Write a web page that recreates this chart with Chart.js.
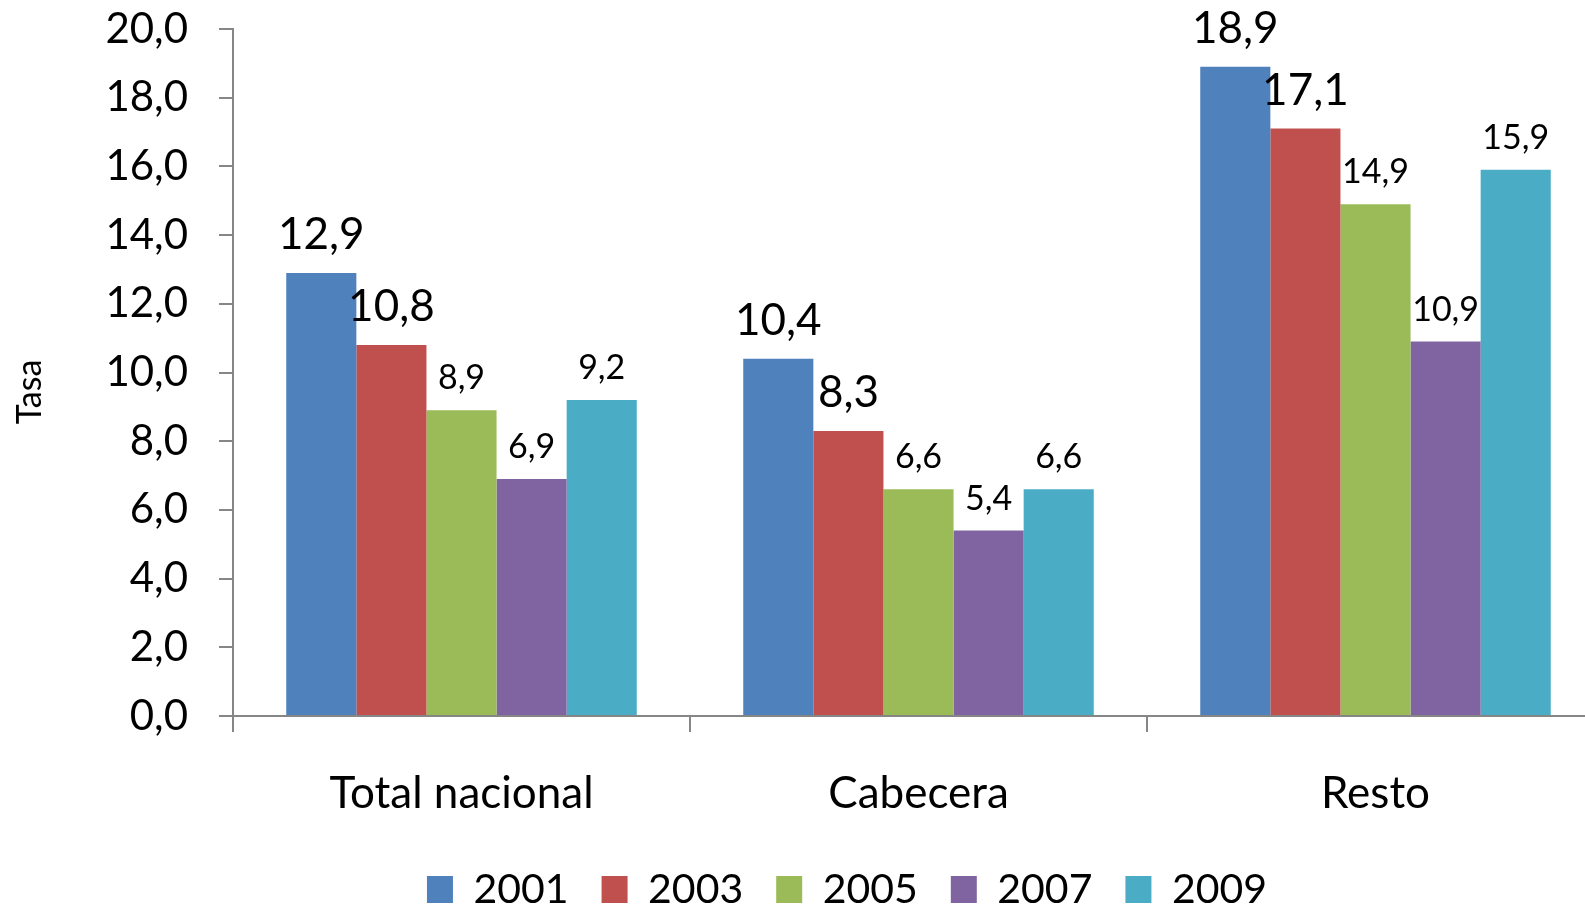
<!DOCTYPE html>
<html>
<head>
<meta charset="utf-8">
<script src="https://cdn.jsdelivr.net/npm/chart.js@4"></script>
<style>
  html, body { margin: 0; padding: 0; background: #fff; overflow: hidden; }
  #wrap { width: 1694px; height: 909px; }
</style>
</head>
<body>
<div id="wrap"><canvas id="tasaChart" width="1694" height="909"></canvas></div>
<script>
// data
const categories = ["Total nacional", "Cabecera", "Resto"];
const years = ["2001", "2003", "2005", "2007", "2009"];
const v2001 = [12.9, 10.4, 18.9];
const v2003 = [10.8, 8.3, 17.1];
const v2005 = [8.9, 6.6, 14.9];
const v2007 = [6.9, 5.4, 10.9];
const v2009 = [9.2, 6.6, 15.9];
const yMin = 0, yMax = 20, yStep = 2;
const yTitle = "Tasa";

const colors = ["#4F81BD", "#C0504D", "#9BBB59", "#8064A2", "#4BACC6"];
const seriesValues = [v2001, v2003, v2005, v2007, v2009];
const axisGray = "#868686";
const fontFamily = "Lato, 'Open Sans', sans-serif";

const fmt = v => Number(v).toFixed(1).replace(".", ",");

// value labels above bars (first two series drawn bigger, like the original)
// plus the rotated axis title, placed a bit below the axis middle
const barLabels = {
  id: "barLabels",
  afterDatasetsDraw(chart) {
    const ctx = chart.ctx;
    ctx.save();
    ctx.fillStyle = "#000";
    ctx.textAlign = "center";
    ctx.textBaseline = "alphabetic";
    chart.data.datasets.forEach((ds, i) => {
      const big = i < 2;
      ctx.font = (big ? "44px " : "34px ") + fontFamily;
      chart.getDatasetMeta(i).data.forEach((bar, j) => {
        ctx.fillText(fmt(ds.data[j]), bar.x, bar.y - (big ? 24 : 21));
      });
    });
    ctx.translate(30, 392);
    ctx.rotate(-Math.PI / 2);
    ctx.textBaseline = "middle";
    ctx.font = "34px " + fontFamily;
    ctx.fillText(yTitle, 0, 0);
    ctx.restore();
  }
};

document.addEventListener("DOMContentLoaded", function () {
  const ctx = document.getElementById("tasaChart").getContext("2d");
  new Chart(ctx, {
    type: "bar",
    data: {
      labels: categories,
      datasets: years.map((y, i) => ({
        label: y,
        data: seriesValues[i],
        backgroundColor: colors[i],
        borderWidth: 0,
        categoryPercentage: 0.767,
        barPercentage: 1.0,
      })),
    },
    options: {
      responsive: false,
      animation: false,
      layout: { padding: { top: 29, left: 0, right: 0, bottom: -11 } },
      plugins: {
        tooltip: { enabled: false },
        legend: {
          position: "bottom",
          labels: {
            font: { family: fontFamily, size: 41 },
            color: "#000",
            boxWidth: 26,
            boxHeight: 27,
            padding: 33,
          },
        },
      },
      scales: {
        x: {
          grid: {
            offset: true,
            drawOnChartArea: false,
            color: axisGray,
            lineWidth: 2,
            tickLength: 16,
          },
          border: { color: axisGray, width: 2 },
          ticks: {
            font: { family: fontFamily, size: 44 },
            color: "#000",
            padding: 35,
          },
          afterFit(scale) { scale.height = 120; },
        },
        y: {
          min: yMin,
          max: yMax,
          ticks: {
            stepSize: yStep,
            font: { family: fontFamily, size: 42 },
            color: "#000",
            padding: 31,
            callback: v => fmt(v),
          },
          grid: {
            drawOnChartArea: false,
            color: axisGray,
            lineWidth: 2,
            tickLength: 14,
          },
          border: { color: axisGray, width: 2 },
          afterFit(scale) {
            scale.width = 233;
            // the big tick padding should not push the plot down
            scale.paddingTop = 0;
            scale.paddingBottom = 0;
          },
        },
        // empty box on the right so the plot runs past the visible edge
        spacer: {
          type: "linear",
          position: "right",
          grid: { display: false },
          border: { display: false },
          ticks: { display: false },
          afterFit(scale) { scale.width = 90; },
        },
      },
    },
    plugins: [barLabels],
  });
});
</script>
</body>
</html>
